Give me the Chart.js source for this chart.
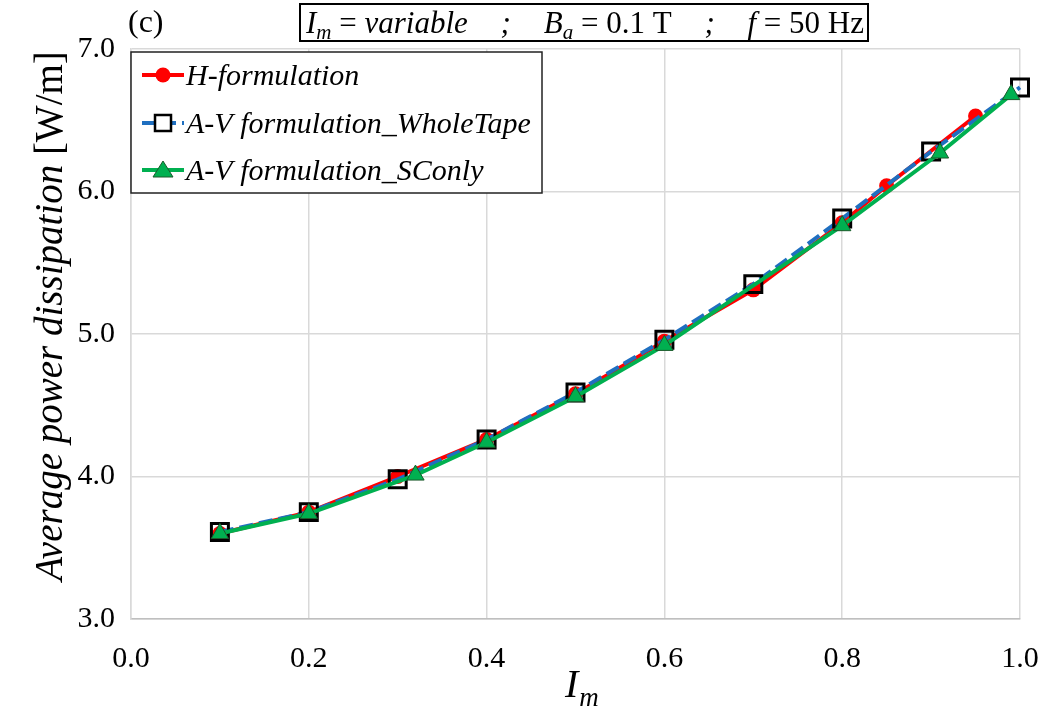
<!DOCTYPE html>
<html><head><meta charset="utf-8">
<script src="https://cdn.jsdelivr.net/npm/chart.js@4/dist/chart.umd.min.js"></script>
<style>html,body{margin:0;padding:0;background:#fff}#wrap{width:1045px;height:713px}</style>
</head><body><div id="wrap"><canvas id="c" width="1045" height="713"></canvas></div>
<script>
const hX = [0.1, 0.2, 0.3, 0.4, 0.5, 0.6, 0.7, 0.8, 0.85, 0.95];
const hY = [3.60, 3.75, 4.00, 4.26, 4.58, 4.95, 5.31, 5.78, 6.04, 6.53];
const wtX = [0.1, 0.2, 0.3, 0.4, 0.5, 0.6, 0.7, 0.8, 0.9, 1.0];
const wtY = [3.61, 3.75, 3.98, 4.26, 4.59, 4.96, 5.35, 5.81, 6.28, 6.73];
const scX = [0.1, 0.2, 0.32, 0.4, 0.5, 0.6, 0.8, 0.91, 0.99];
const scY = [3.60, 3.74, 4.01, 4.24, 4.56, 4.92, 5.76, 6.27, 6.68];
const xTicks = [0.0, 0.2, 0.4, 0.6, 0.8, 1.0];
const yTicks = [3.0, 4.0, 5.0, 6.0, 7.0];
const seriesNames = ['H-formulation', 'A-V formulation_WholeTape', 'A-V formulation_SConly'];

const pts = (xs, ys) => xs.map((x, i) => ({x, y: ys[i]}));
const SERIF = '"Liberation Serif", "DejaVu Serif", serif';

const RED = '#ff0000', BLUE = '#1f6fc0', GREEN = '#00b050';

const overlay = {
  id: 'overlay',
  afterDraw(chart) {
    const ctx = chart.ctx;
    ctx.save();
    ctx.fillStyle = '#000';
    ctx.textBaseline = 'alphabetic';
    ctx.textAlign = 'left';
    // (c)
    ctx.font = '32px ' + SERIF;
    ctx.fillText('(c)', 128, 32);
    // title box
    ctx.strokeStyle = '#000';
    ctx.lineWidth = 2;
    ctx.strokeRect(300, 4, 568, 37);
    const FS = 31;
    const parts1 = [['I', 'italic ' + FS + 'px', 0], ['m', 'italic 21px', 6], [' = ', FS + 'px', 0], ['variable', 'italic ' + FS + 'px', 0]];
    const parts2 = [['B', 'italic ' + FS + 'px', 0], ['a', 'italic 21px', 6], [' = 0.1 T', FS + 'px', 0]];
    const parts3 = [['f', 'italic ' + FS + 'px', 0], [' = 50 Hz', FS + 'px', 0]];
    const width = ps => ps.reduce((s, p) => { ctx.font = p[1] + ' ' + SERIF; return s + ctx.measureText(p[0]).width; }, 0);
    const draw = (ps, x0, y) => { let x = x0; ps.forEach(p => { ctx.font = p[1] + ' ' + SERIF; ctx.fillText(p[0], x, y + p[2]); x += ctx.measureText(p[0]).width; }); return x; };
    const ty = 33;
    const w1 = width(parts1), w2 = width(parts2), w3 = width(parts3);
    ctx.font = 'italic ' + FS + 'px ' + SERIF;
    const ws = ctx.measureText(';').width;
    const start = 306, end = 864;
    const gap = (end - start - w1 - w2 - w3 - 2 * ws) / 4;
    let x = draw(parts1, start, ty);
    x += gap; ctx.font = 'italic ' + FS + 'px ' + SERIF; ctx.fillText(';', x, ty); x += ws + gap;
    x = draw(parts2, x, ty);
    x += gap; ctx.font = 'italic ' + FS + 'px ' + SERIF; ctx.fillText(';', x, ty); x += ws + gap;
    draw(parts3, x, ty);

    // legend
    ctx.fillStyle = '#fff';
    ctx.fillRect(131, 52, 411, 141);
    ctx.strokeStyle = '#222';
    ctx.lineWidth = 1.5;
    ctx.strokeRect(131, 52, 411, 141);
    const rows = [75, 123, 170];
    const ds = chart.data.datasets;
    seriesNames.forEach((name, i) => {
      const d = ds.find(dd => dd.label === name), yy = rows[i];
      ctx.strokeStyle = d.borderColor;
      ctx.lineWidth = 4;
      ctx.setLineDash(i === 1 ? [14, 6] : []);
      ctx.beginPath(); ctx.moveTo(142, yy); ctx.lineTo(184, yy); ctx.stroke();
      ctx.setLineDash([]);
      const mx = 163;
      if (i === 0) {
        ctx.fillStyle = RED; ctx.beginPath(); ctx.arc(mx, yy, 7.5, 0, Math.PI * 2); ctx.fill();
      } else if (i === 1) {
        ctx.strokeStyle = '#000'; ctx.lineWidth = 2.5; ctx.fillStyle = '#fff';
        ctx.fillRect(mx - 8, yy - 8, 16, 16); ctx.strokeRect(mx - 8, yy - 8, 16, 16);
      } else {
        ctx.fillStyle = GREEN; ctx.strokeStyle = '#1a5a2a'; ctx.lineWidth = 1;
        ctx.beginPath(); ctx.moveTo(mx, yy - 9); ctx.lineTo(mx + 10, yy + 7); ctx.lineTo(mx - 10, yy + 7); ctx.closePath(); ctx.fill(); ctx.stroke();
      }
      ctx.fillStyle = '#000';
      ctx.font = 'italic 30px ' + SERIF;
      ctx.fillText(name, 186, yy + 10);
    });

    // y title
    ctx.save();
    ctx.translate(62, 316);
    ctx.rotate(-Math.PI / 2);
    const t1 = 'Average power dissipation ';
    ctx.font = 'italic 39px ' + SERIF;
    const a1 = ctx.measureText(t1).width;
    ctx.font = '39px ' + SERIF;
    const a2 = ctx.measureText('[W/m]').width;
    const sx = -(a1 + a2) / 2;
    ctx.font = 'italic 39px ' + SERIF;
    ctx.fillText(t1, sx, 0);
    ctx.font = '39px ' + SERIF;
    ctx.fillText('[W/m]', sx + a1, 0);
    ctx.restore();

    // x title
    ctx.font = 'italic 40px ' + SERIF;
    ctx.fillText('I', 565, 697);
    const wi = ctx.measureText('I').width;
    ctx.font = 'italic 27px ' + SERIF;
    ctx.fillText('m', 565 + wi + 1, 706);
    ctx.restore();
  }
};

new Chart(document.getElementById('c'), {
  type: 'scatter',
  data: {
    datasets: [
      { label: seriesNames[2], data: pts(scX, scY), showLine: true, borderColor: GREEN, backgroundColor: GREEN,
        borderWidth: 4, pointStyle: 'triangle', pointRadius: 10, pointBorderColor: '#1a5a2a', pointBorderWidth: 1,
        pointBackgroundColor: GREEN, order: 0, clip: false },
      { label: seriesNames[1], data: pts(wtX, wtY), showLine: true, borderColor: BLUE, backgroundColor: 'rgba(0,0,0,0)',
        borderWidth: 4, borderDash: [14, 6], pointStyle: 'rect', pointRadius: 12, pointBorderColor: '#000', pointBorderWidth: 3,
        pointBackgroundColor: 'rgba(0,0,0,0)', order: 1, clip: false },
      { label: seriesNames[0], data: pts(hX, hY), showLine: true, borderColor: RED, backgroundColor: RED,
        borderWidth: 4, pointStyle: 'circle', pointRadius: 7.5, pointBorderColor: RED, pointBorderWidth: 0,
        pointBackgroundColor: RED, order: 2, clip: false }
    ]
  },
  options: {
    responsive: false,
    animation: false,
    layout: { padding: { left: 0, right: 0, top: 49, bottom: 0 } },
    plugins: { legend: { display: false }, tooltip: { enabled: false }, title: { display: false } },
    scales: {
      x: {
        type: 'linear', min: 0, max: 1,
        afterBuildTicks: a => { a.ticks = xTicks.map(v => ({value: v})); },
        afterFit: a => { a.height = 94; a.paddingRight = 25; },
        grid: { color: '#d9d9d9', lineWidth: 1.5, drawTicks: false },
        border: { display: true, color: '#bfbfbf', width: 1.5 },
        ticks: { color: '#000', padding: 22, font: { family: SERIF, size: 30 }, callback: v => v.toFixed(1), maxRotation: 0 }
      },
      y: {
        type: 'linear', min: 3, max: 7,
        afterBuildTicks: a => { a.ticks = yTicks.map(v => ({value: v})); },
        afterFit: a => { a.width = 131; },
        grid: { color: '#d9d9d9', lineWidth: 1.5, drawTicks: false },
        border: { display: true, color: '#d9d9d9', width: 1.5 },
        ticks: { color: '#000', padding: 16, font: { family: SERIF, size: 30 }, callback: v => v.toFixed(1) }
      }
    }
  },
  plugins: [overlay]
});
</script>
</body></html>
